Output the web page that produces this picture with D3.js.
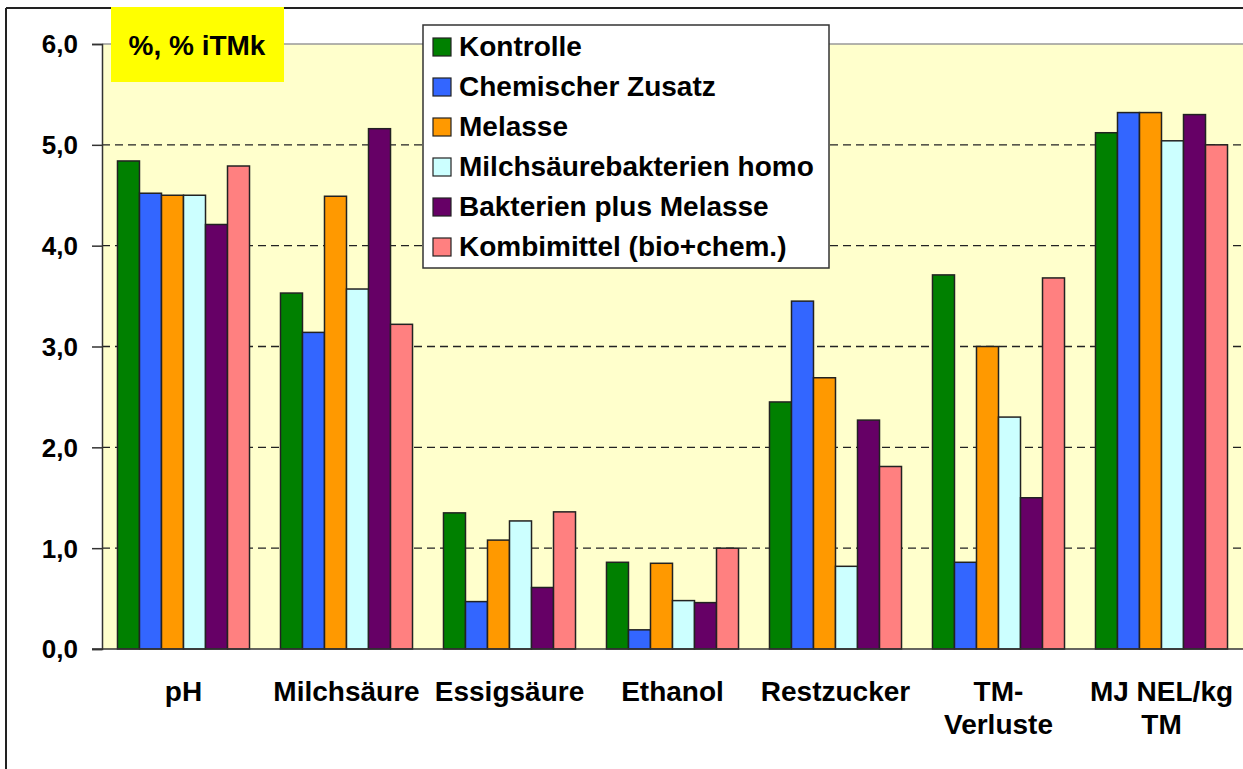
<!DOCTYPE html>
<html>
<head>
<meta charset="utf-8">
<script src="https://cdn.jsdelivr.net/npm/d3@7"></script>
<style>
  body { margin: 0; background: #fff; }
  svg { display: block; }
  text { font-family: Arial, "Liberation Sans", sans-serif; font-weight: bold; fill: #000; }
</style>
</head>
<body>
<div id="chart"></div>
<script>
// categories and series
var categories = [["pH"], ["Milchsäure"], ["Essigsäure"], ["Ethanol"], ["Restzucker"], ["TM-", "Verluste"], ["MJ NEL/kg", "TM"]];
var seriesNames = ["Kontrolle", "Chemischer Zusatz", "Melasse", "Milchsäurebakterien homo", "Bakterien plus Melasse", "Kombimittel (bio+chem.)"];
var seriesColors = ["#008000", "#3366ff", "#ff9900", "#ccffff", "#660066", "#ff8080"];
var kontrolle   = [4.84, 3.53, 1.35, 0.86, 2.45, 3.71, 5.12];
var chemisch    = [4.52, 3.14, 0.47, 0.19, 3.45, 0.86, 5.32];
var melasse     = [4.50, 4.49, 1.08, 0.85, 2.69, 3.00, 5.32];
var homo        = [4.50, 3.57, 1.27, 0.48, 0.82, 2.30, 5.04];
var bakMelasse  = [4.21, 5.16, 0.61, 0.46, 2.27, 1.50, 5.30];
var kombi       = [4.79, 3.22, 1.36, 1.00, 1.81, 3.68, 5.00];
var series = [kontrolle, chemisch, melasse, homo, bakMelasse, kombi];
var yTicks = [0, 1, 2, 3, 4, 5, 6];
var unitLabel = "%, % iTMk";

var W = 1243, H = 769;
var plotLeft = 102, plotTop = 44, plotRight = 1243, plotBottom = 649;

var svg = d3.select("#chart").append("svg")
	.attr("width", W)
	.attr("height", H);

var x0 = d3.scaleBand()
	.domain(d3.range(categories.length))
	.range([plotLeft, plotRight])
	.paddingInner(0.19)
	.paddingOuter(0.095);
var x1 = d3.scaleBand()
	.domain(d3.range(series.length))
	.range([0, x0.bandwidth()]);
var y = d3.scaleLinear().domain([0, 6]).range([plotBottom, plotTop]);

// outer frame
svg.append("line").attr("x1", 6).attr("y1", 8).attr("x2", W).attr("y2", 8)
	.style("stroke", "#222").style("stroke-width", 2);
svg.append("line").attr("x1", 6).attr("y1", 8).attr("x2", 6).attr("y2", H)
	.style("stroke", "#222").style("stroke-width", 2);

// plot area
svg.append("rect")
	.attr("x", plotLeft).attr("y", plotTop)
	.attr("width", plotRight - plotLeft).attr("height", plotBottom - plotTop)
	.style("fill", "#ffffcc");
svg.append("line").attr("x1", plotLeft).attr("y1", plotTop).attr("x2", plotRight).attr("y2", plotTop)
	.style("stroke", "#999").style("stroke-width", 1.5);

// dashed gridlines
svg.append("g").selectAll("line")
	.data(yTicks.filter(function(d) { return d > 0 && d < 6; }))
	.enter().append("line")
	.attr("x1", plotLeft).attr("x2", plotRight)
	.attr("y1", function(d) { return y(d); })
	.attr("y2", function(d) { return y(d); })
	.style("stroke", "#222")
	.style("stroke-width", 1.4)
	.style("stroke-dasharray", "8,5");

// bars
var groups = svg.append("g").selectAll("g")
	.data(categories)
	.enter().append("g")
	.attr("transform", function(d, i) { return "translate(" + x0(i) + ",0)"; });

groups.selectAll("rect")
	.data(function(d, i) { return series.map(function(s, j) { return { j: j, v: s[i] }; }); })
	.enter().append("rect")
	.attr("x", function(d) { return x1(d.j); })
	.attr("width", x1.bandwidth())
	.attr("y", function(d) { return y(d.v); })
	.attr("height", function(d) { return y(0) - y(d.v); })
	.style("fill", function(d) { return seriesColors[d.j]; })
	.style("stroke", "#222")
	.style("stroke-width", 1.5);

// y axis
var yAxis = d3.axisLeft(y)
	.tickValues(yTicks)
	.tickSize(10)
	.tickPadding(14)
	.tickFormat(function(d) { return d3.format(".1f")(d).replace(".", ","); });
var ya = svg.append("g")
	.attr("transform", "translate(" + plotLeft + ",0)")
	.call(yAxis);
ya.select(".domain").style("stroke", "#333").style("stroke-width", 1.5);
ya.selectAll(".tick line").style("stroke", "#333").style("stroke-width", 1.5);
ya.selectAll(".tick text")
	.attr("font-size", "26px")
	.attr("font-family", "Arial, 'Liberation Sans', sans-serif")
	.attr("font-weight", "bold")
	.attr("dy", "0.34em")
	.style("fill", "#000");

// x axis line
svg.append("line").attr("x1", plotLeft - 10).attr("x2", plotRight)
	.attr("y1", y(0)).attr("y2", y(0))
	.style("stroke", "#333").style("stroke-width", 1.5);

// category labels
var labels = svg.append("g").selectAll("text")
	.data(categories)
	.enter().append("text")
	.attr("x", function(d, i) { return x0(i) + x0.bandwidth() / 2; })
	.attr("y", 701)
	.attr("font-size", "28px")
	.style("text-anchor", "middle");
labels.selectAll("tspan")
	.data(function(d) { return d; })
	.enter().append("tspan")
	.attr("x", function() { return this.parentNode.getAttribute("x"); })
	.attr("dy", function(d, k) { return k === 0 ? 0 : 33; })
	.text(function(d) { return d; });

// unit label box
svg.append("rect")
	.attr("x", 111).attr("y", 7).attr("width", 173).attr("height", 75)
	.style("fill", "#ffff00");
svg.append("text")
	.attr("x", 197).attr("y", 55)
	.attr("font-size", "28px")
	.style("text-anchor", "middle")
	.text(unitLabel);

// legend
var lg = svg.append("g");
lg.append("rect")
	.attr("x", 423).attr("y", 25).attr("width", 406).attr("height", 243)
	.style("fill", "#fff")
	.style("stroke", "#333")
	.style("stroke-width", 1.5);
var items = lg.selectAll("g.item")
	.data(seriesNames)
	.enter().append("g")
	.attr("class", "item")
	.attr("transform", function(d, i) { return "translate(0," + (56 + i * 40) + ")"; });
items.append("rect")
	.attr("x", 433).attr("y", -18).attr("width", 18).attr("height", 18)
	.style("fill", function(d, i) { return seriesColors[i]; })
	.style("stroke", "#222")
	.style("stroke-width", 1.2);
items.append("text")
	.attr("x", 459).attr("y", 0)
	.attr("font-size", "28px")
	.text(function(d) { return d; });
</script>
</body>
</html>
